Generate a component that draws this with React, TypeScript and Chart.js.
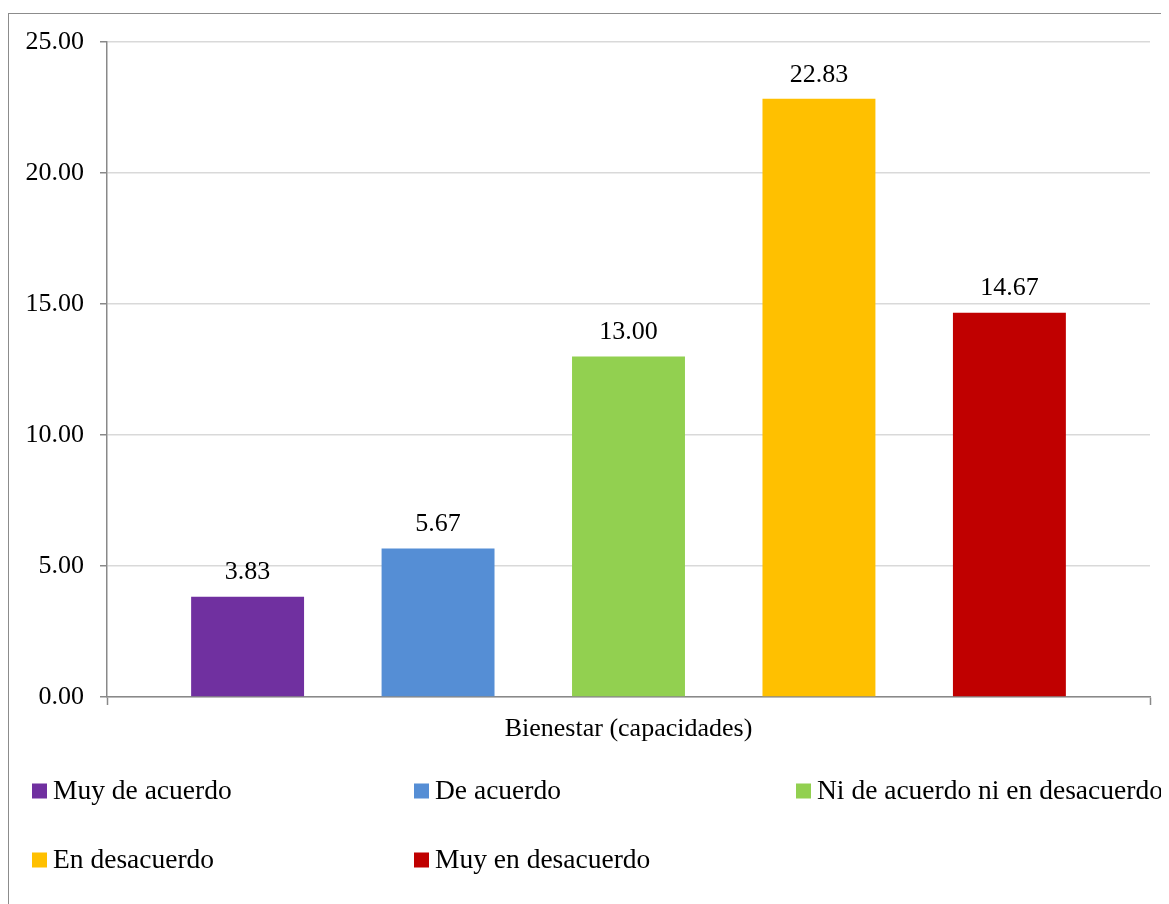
import { useEffect, useRef } from "react";
import { Chart, registerables } from "chart.js";

Chart.register(...registerables);

// Data
const categories = ["Bienestar (capacidades)"];
const seriesNames = [
  "Muy de acuerdo",
  "De acuerdo",
  "Ni de acuerdo ni en desacuerdo",
  "En desacuerdo",
  "Muy en desacuerdo",
];
const seriesValues = [3.83, 5.67, 13.0, 22.83, 14.67];
const seriesColors = ["#7030A0", "#558ED5", "#92D050", "#FFC000", "#C00000"];
const yMin = 0;
const yMax = 25;
const yStep = 5;

const FONT_FAMILY = "'Liberation Serif', 'Times New Roman', serif";
const TEXT_COLOR = "#000000";
const AXIS_COLOR = "#898989";
const GRID_COLOR = "#d9d9d9";

// Writes each bar's value above it
const valueLabels = {
  id: "valueLabels",
  afterDatasetsDraw(chart: any) {
    const { ctx } = chart;
    ctx.save();
    ctx.font = `26px ${FONT_FAMILY}`;
    ctx.fillStyle = TEXT_COLOR;
    ctx.textAlign = "center";
    ctx.textBaseline = "middle";
    chart.data.datasets.forEach((ds: any, di: number) => {
      const meta = chart.getDatasetMeta(di);
      meta.data.forEach((el: any, i: number) => {
        const v = Number(ds.data[i]);
        ctx.fillText(v.toFixed(2), el.x, el.y - 24);
      });
    });
    ctx.restore();
  },
};

// Legend laid out in a three-column grid below the axis
const gridLegend = {
  id: "gridLegend",
  afterDraw(chart: any) {
    const { ctx, chartArea } = chart;
    const cols = 3;
    const colStep = 382;
    const rowStep = 69;
    const left = 23;
    const top = chartArea.bottom + 94;
    const box = 15;
    ctx.save();
    ctx.font = `27.5px ${FONT_FAMILY}`;
    ctx.textBaseline = "middle";
    ctx.textAlign = "left";
    chart.data.datasets.forEach((ds: any, i: number) => {
      const col = i % cols;
      const row = Math.floor(i / cols);
      const x = left + col * colStep;
      const y = top + row * rowStep;
      ctx.fillStyle = ds.backgroundColor;
      ctx.fillRect(x, y - box / 2, box, box);
      ctx.fillStyle = TEXT_COLOR;
      ctx.fillText(ds.label, x + box + 6, y + 1);
    });
    ctx.restore();
  },
};

export default function App() {
  const canvasRef = useRef<HTMLCanvasElement | null>(null);

  useEffect(() => {
    if (!canvasRef.current) return;
    const chart = new Chart(canvasRef.current, {
      type: "bar",
      data: {
        labels: categories,
        datasets: seriesNames.map((name, i) => ({
          label: name,
          data: [seriesValues[i]],
          backgroundColor: seriesColors[i],
          borderWidth: 0,
          categoryPercentage: 0.913,
          barPercentage: 0.593,
        })),
      },
      options: {
        responsive: false,
        animation: false,
        devicePixelRatio: 1,
        layout: { padding: { left: 0, top: 28, right: 39, bottom: 177 } },
        plugins: {
          legend: { display: false },
          tooltip: { enabled: false },
        },
        scales: {
          x: {
            offset: true,
            grid: {
              offset: true,
              drawOnChartArea: false,
              drawTicks: true,
              tickLength: 8,
              tickColor: AXIS_COLOR,
              tickWidth: 1.5,
            },
            border: { display: true, color: AXIS_COLOR, width: 1.5 },
            ticks: {
              color: TEXT_COLOR,
              font: { family: FONT_FAMILY, size: 26 },
              padding: 9,
            },
            afterFit(scale: any) {
              scale.height = 60;
              scale.paddingLeft = 0;
              scale.paddingRight = 0;
            },
          },
          y: {
            min: yMin,
            max: yMax,
            ticks: {
              stepSize: yStep,
              color: TEXT_COLOR,
              font: { family: FONT_FAMILY, size: 26 },
              padding: 16,
              callback: (v: any) => Number(v).toFixed(2),
            },
            grid: {
              color: GRID_COLOR,
              lineWidth: 1.5,
              tickLength: 7,
              tickColor: AXIS_COLOR,
              tickWidth: 1.5,
            },
            border: { display: true, color: AXIS_COLOR, width: 1.5 },
            afterFit(scale: any) {
              scale.width = 98;
              scale.paddingTop = 0;
              scale.paddingBottom = 0;
            },
          },
        },
      },
      plugins: [valueLabels, gridLegend],
    });
    return () => chart.destroy();
  }, []);

  return (
    <div style={{ width: 1161, height: 896, overflow: "hidden" }}>
      <div
        style={{
          marginTop: 5,
          width: 1180,
          height: 920,
          border: "1px solid #8c8c8c",
          background: "#ffffff",
        }}
      >
        <canvas
          ref={canvasRef}
          width={1180}
          height={920}
          style={{ display: "block" }}
        />
      </div>
    </div>
  );
}
